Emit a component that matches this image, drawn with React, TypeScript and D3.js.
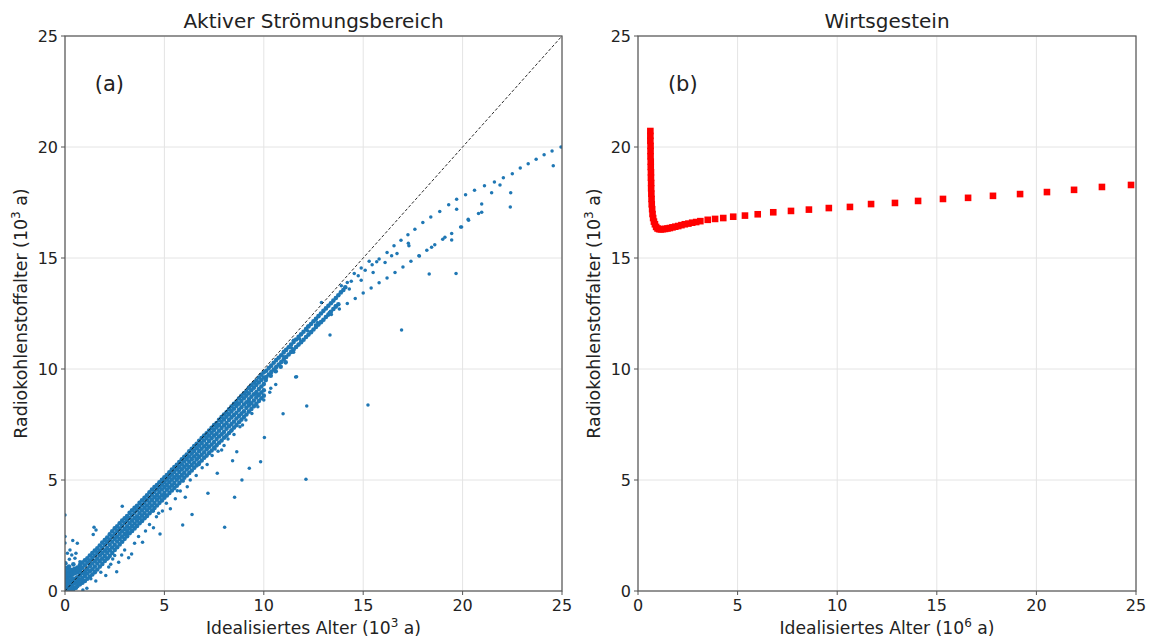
import React from "react";
import * as d3 from "d3";

// ---------- shared ----------
const TICKS = [0, 5, 10, 15, 20, 25];
const TITLE_A = "Aktiver Strömungsbereich";
const TITLE_B = "Wirtsgestein";
const Y_LABEL = "Radiokohlenstoffalter (10";
const X_LABEL = "Idealisiertes Alter (10";

// ---------- panel (a): dense band 0..10 ----------
const bandXa = [0,0.25,0.5,0.75,1,1.25,1.5,1.75,2,2.25,2.5,2.75,3,3.25,3.5,3.75,4,4.25,4.5,4.75,5,5.25,5.5,5.75,6,6.25,6.5,6.75,7,7.25,7.5,7.75,8,8.25,8.5,8.75,9,9.25,9.5,9.75,10];
const bandXb = [0.125,0.375,0.625,0.875,1.125,1.375,1.625,1.875,2.125,2.375,2.625,2.875,3.125,3.375,3.625,3.875,4.125,4.375,4.625,4.875,5.125,5.375,5.625,5.875,6.125,6.375,6.625,6.875,7.125,7.375,7.625,7.875,8.125,8.375,8.625,8.875,9.125,9.375,9.625,9.875];
// values at bandXa
const bandTopA = [0.75,0.9,1.0,1.17,1.38,1.6,1.82,2.05,2.3,2.55,2.82,3.05,3.28,3.52,3.75,3.97,4.2,4.45,4.68,4.9,5.12,5.35,5.58,5.81,6.05,6.29,6.53,6.77,7.0,7.23,7.47,7.71,7.95,8.19,8.43,8.67,8.9,9.15,9.38,9.62,9.85];
const bandUpA = [0.55,0.66,0.8,0.95,1.16,1.37,1.6,1.82,2.08,2.32,2.58,2.81,3.06,3.29,3.53,3.74,3.98,4.21,4.46,4.67,4.9,5.12,5.36,5.59,5.83,6.06,6.31,6.54,6.78,7.0,7.25,7.48,7.73,7.96,8.21,8.44,8.68,8.91,9.16,9.39,9.62];
const bandMidA = [0.3,0.45,0.55,0.72,0.9,1.12,1.35,1.6,1.82,2.08,2.35,2.58,2.8,3.05,3.28,3.5,3.75,3.98,4.22,4.45,4.68,4.9,5.12,5.36,5.6,5.82,6.06,6.3,6.52,6.76,7.0,7.22,7.46,7.7,7.93,8.16,8.4,8.63,8.86,9.1,9.32];
const bandDownA = [0.15,0.26,0.37,0.52,0.68,0.89,1.1,1.35,1.58,1.84,2.08,2.34,2.57,2.82,3.04,3.28,3.5,3.75,3.97,4.21,4.42,4.66,4.87,5.12,5.33,5.58,5.79,6.04,6.25,6.5,6.71,6.96,7.17,7.42,7.63,7.88,8.1,8.36,8.58,8.83,9.04];
const bandLowA = [0.02,0.1,0.15,0.3,0.45,0.65,0.85,1.1,1.35,1.58,1.85,2.1,2.35,2.6,2.82,3.05,3.28,3.5,3.74,3.97,4.2,4.42,4.64,4.86,5.1,5.32,5.55,5.78,6.0,6.22,6.45,6.68,6.9,7.12,7.36,7.6,7.84,8.08,8.32,8.56,8.8];
// values at bandXb
const bandTopB = [0.83,0.95,1.06,1.28,1.47,1.71,1.92,2.18,2.41,2.69,2.92,3.17,3.38,3.64,3.84,4.09,4.31,4.57,4.77,5.01,5.22,5.47,5.68,5.93,6.15,6.41,6.63,6.89,7.1,7.35,7.57,7.83,8.05,8.31,8.53,8.79,9.01,9.27,9.48,9.74];
const bandUpB = [0.6,0.73,0.86,1.05,1.27,1.49,1.71,1.95,2.2,2.46,2.7,2.94,3.18,3.41,3.64,3.86,4.1,4.34,4.57,4.79,5.01,5.24,5.48,5.71,5.95,6.19,6.43,6.66,6.89,7.13,7.37,7.61,7.85,8.09,8.33,8.56,8.8,9.04,9.28,9.51];
const bandMidB = [0.36,0.5,0.62,0.81,0.99,1.24,1.46,1.71,1.93,2.22,2.45,2.69,2.91,3.17,3.37,3.63,3.85,4.1,4.32,4.57,4.77,5.01,5.22,5.48,5.69,5.94,6.16,6.41,6.62,6.88,7.09,7.34,7.56,7.82,8.03,8.28,8.5,8.75,8.96,9.21];
const bandDownB = [0.2,0.31,0.44,0.58,0.79,0.98,1.24,1.46,1.72,1.96,2.23,2.45,2.71,2.93,3.17,3.39,3.64,3.85,4.11,4.31,4.56,4.76,5.01,5.22,5.47,5.68,5.93,6.14,6.39,6.6,6.85,7.06,7.31,7.52,7.77,7.99,8.25,8.46,8.72,8.94];
const bandLowB = [0.06,0.12,0.22,0.37,0.55,0.74,0.97,1.22,1.46,1.71,1.97,2.22,2.47,2.7,2.93,3.16,3.38,3.62,3.85,4.08,4.3,4.53,4.74,4.98,5.2,5.43,5.66,5.88,6.1,6.33,6.56,6.78,7.0,7.24,7.47,7.72,7.95,8.2,8.43,8.68];

const originPts = [[0.02,0.05],[0.05,0.25],[0.03,0.45],[0.04,0.65],[0.02,0.85],[0.03,1.05],[0.02,1.25],[0.12,0.15],[0.15,0.45],[0.18,0.75],[0.28,0.25],[0.32,0.55],[0.4,0.05],[0.45,0.35],[0.55,0.15],[0.6,0.6],[0.7,0.35],[0.85,0.5],[0.95,0.8],[0.1,1.0],[0.2,1.1],[0.25,0.95],[0.35,0.8],[0.42,1.2],[0.5,0.85],[0.62,0.95],[0.75,0.75],[0.8,1.05],[0.15,0.3],[0.3,0.1]];

const sparseBelow = [[1.8,0.85],[2.05,0.7],[2.3,1.2],[2.7,1.3],[3.0,1.85],[3.2,1.5],[3.5,2.15],[3.7,2.45],[4.05,2.7],[4.25,3.0],[4.45,2.85],[4.6,3.35],[4.9,3.6],[5.1,3.95],[5.3,3.7],[5.55,4.15],[5.8,4.5],[6.15,4.7],[6.3,5.0],[6.6,5.2],[6.9,5.55],[7.15,5.7],[7.4,6.1],[7.7,6.3],[8.0,6.55],[8.2,6.85],[8.5,7.05],[8.8,7.4],[9.1,7.7],[9.4,8.0],[9.7,8.3],[10.0,8.6],[10.3,8.95],[10.6,9.3],[3.1,2.6],[3.9,3.15],[4.45,3.6],[5.0,4.25],[5.95,4.95],[6.75,5.7],[7.55,6.4],[8.35,7.2],[9.25,8.1],[1.3,0.55],[1.55,0.45],[2.5,1.6],[1.1,0.12],[0.9,0.05]];

// band 10..14 (upper, near the diagonal)
const upperBand = [[10.125,9.92],[10.375,10.15],[10.625,10.4],[10.875,10.62],[11.125,10.86],[11.375,11.1],[11.625,11.33],[11.875,11.56],[12.125,11.8],[12.375,12.03],[12.625,12.26],[12.875,12.5],[13.125,12.73],[13.375,12.96],[13.625,13.2],[13.875,13.45],[14.1,13.68],
  [10.25,10.04],[10.5,10.28],[10.75,10.51],[11.0,10.74],[11.25,10.98],[11.5,11.22],[11.75,11.45],[12.0,11.68],[12.25,11.92],[12.5,12.15],[12.75,12.38],[13.0,12.62],[13.25,12.85],[13.5,13.08],[13.75,13.32],[14.0,13.56],
  [10.25,9.75],[10.5,9.98],[10.75,10.2],[11.0,10.43],[11.25,10.65],[11.5,10.88],[11.75,11.1],[12.0,11.32],[12.25,11.55],[12.5,11.78],[12.75,12.0],[13.0,12.22],[13.25,12.45],[13.5,12.7],[13.75,12.92],
  [10.125,9.64],[10.375,9.86],[10.625,10.09],[10.875,10.31],[11.125,10.54],[11.375,10.77],[11.625,10.99],[11.875,11.21],[12.125,11.44],[12.375,11.66],[12.625,11.89],[12.875,12.11],[13.125,12.34],[13.375,12.58],[13.625,12.81],
  [10.1,9.5],[10.35,9.7],[10.6,9.9],[10.85,10.1],[11.1,10.3]];

const lowerBranch = [[10.6,10.05],[11.0,10.55],[11.4,10.95],[11.8,11.35],[12.2,11.72],[12.6,11.98],[13.0,12.22],[13.4,12.46],[13.8,12.7],[14.2,12.95],[14.6,13.18],[15.0,13.42],[15.4,13.65],[15.8,13.88],[16.2,14.1],[16.6,14.35],[17.0,14.6],[17.4,14.85],[17.8,15.1],[18.2,15.35],[18.6,15.6],[19.0,15.85],[19.45,16.1],[19.9,16.4],[20.3,16.7],[20.8,17.0]];

const upperBranch = [[14.4,13.95],[14.75,14.2],[15.1,14.45],[15.45,14.7],[15.8,14.95],[16.2,15.25],[16.55,15.55],[16.9,15.8],[17.25,16.05],[17.6,16.3],[18.0,16.6],[18.4,16.85],[18.85,17.1],[19.3,17.4],[19.7,17.65],[20.15,17.85],[20.6,18.05],[21.1,18.25],[21.6,18.42],[22.05,18.62],[22.5,18.8],[22.9,19.05],[23.3,19.25],[23.7,19.45],[24.1,19.65],[24.5,19.82],[24.95,20.0],
  [13.9,13.75],[14.2,13.9],[14.55,14.3],[14.9,14.55],[15.3,14.85],[14.3,13.6],[14.9,14.0],[15.5,14.35],[16.1,14.8],[16.7,15.2],[17.3,15.55],[12.9,13.0],[13.3,12.55],[12.7,12.1],[11.5,10.75],[13.6,12.85],[12.2,11.9],[11.0,10.8]];

const outliers = [[0,3.42],[0,2.45],[0,2.16],[0.39,2.27],[0.62,2.15],[0.12,1.7],[0.25,1.85],[0.34,1.62],[0.55,1.7],[0.22,1.43],[0.5,1.47],[0.75,1.32],[1.46,2.87],[1.56,2.75],[1.42,2.55],[2.88,3.82],[2.18,1.47],[2.6,0.87],[2.2,1.08],[2.4,1.44],[2.85,1.62],[3.35,1.67],[3.9,2.2],[4.78,2.57],[4.71,3.5],[5.65,4.52],[6.05,4.22],[5.92,2.97],[6.39,3.45],[7.19,4.4],[7.66,5.3],[7.88,6.35],[8.64,6.27],[8.43,5.87],[8.03,2.87],[8.53,4.22],[8.9,5.0],[9.27,5.53],[9.84,5.82],[10.03,6.92],[8.93,7.48],[10.97,7.98],[12.16,8.33],[12.12,5.03],[15.24,8.38],[11.6,9.64],[10.35,9.13],[9.67,8.9],[9.27,8.53],[16.93,11.76],[13.33,11.53],[11.49,11.3],[11.65,9.65],[15.68,14.83],[16.43,15.1],[17.27,15.66],[17.83,15.09],[18.32,14.28],[18.44,15.48],[19.11,15.93],[19.45,15.81],[19.7,17.2],[19.95,16.4],[20.28,16.74],[20.96,17.06],[20.96,17.43],[21.46,17.94],[21.88,18.29],[22.42,17.94],[22.4,17.3],[24.56,19.16],[19.67,14.3]];

// ---------- panel (b) ----------
const rockPts = [[0.62,20.72],[0.62,20.5],[0.62,20.28],[0.63,20.05],[0.63,19.82],[0.63,19.58],[0.64,19.34],[0.64,19.1],[0.65,18.86],[0.65,18.62],[0.66,18.38],[0.66,18.14],[0.67,17.9],[0.68,17.66],[0.69,17.42],[0.71,17.2],[0.73,16.98],[0.76,16.8],[0.8,16.64],[0.85,16.52],[0.91,16.4],[0.98,16.33],[1.06,16.3],[1.15,16.29],[1.25,16.3],[1.36,16.31],[1.48,16.33],[1.6,16.35],[1.73,16.38],[1.87,16.41],[2.02,16.44],[2.18,16.48],[2.35,16.52],[2.53,16.55],[2.72,16.59],[2.92,16.62],[3.13,16.66],[3.5,16.72],[3.87,16.76],[4.28,16.8],[4.78,16.86],[5.37,16.91],[6.01,16.97],[6.79,17.06],[7.68,17.12],[8.58,17.18],[9.58,17.25],[10.64,17.3],[11.7,17.43],[12.9,17.48],[14.06,17.57],[15.31,17.66],[16.57,17.71],[17.82,17.8],[19.18,17.88],[20.53,17.97],[21.89,18.07],[23.29,18.2],[24.75,18.29]];

const FONT = "'DejaVu Sans', sans-serif";
const TOP = 36, BOTTOM = 591;
const yScale = d3.scaleLinear().domain([0, 25]).range([BOTTOM, TOP]);
const xScaleA = d3.scaleLinear().domain([0, 25]).range([65, 562]);
const xScaleB = d3.scaleLinear().domain([0, 25]).range([638, 1136]);

function Frame({ xs, id, title, letter, sup }) {
  const [x0, x1] = xs.range();
  const cx = (x0 + x1) / 2;
  return (
    <g>
      {TICKS.map((t) => (
        <g key={"g" + t}>
          <line x1={xs(t)} x2={xs(t)} y1={TOP} y2={BOTTOM} stroke="#e4e4e4" strokeWidth={1} />
          <line x1={x0} x2={x1} y1={yScale(t)} y2={yScale(t)} stroke="#e4e4e4" strokeWidth={1} />
        </g>
      ))}
      <text x={cx} y={28} textAnchor="middle" fontFamily={FONT} fontSize={20} fill="#222">{title}</text>
      <text x={xs(1.5)} y={yScale(22.8)} fontFamily={FONT} fontSize={21} fill="#222" dominantBaseline="middle">{letter}</text>
      <text x={cx} y={634} textAnchor="middle" fontFamily={FONT} fontSize={17.2} fill="#222">
        {X_LABEL}<tspan dy={-7} fontSize={12}>{sup}</tspan><tspan dy={7}> a)</tspan>
      </text>
      <text transform={`translate(${x0 - 38},${(TOP + BOTTOM) / 2}) rotate(-90)`} textAnchor="middle" fontFamily={FONT} fontSize={17.4} fill="#222">
        {Y_LABEL}<tspan dy={-7} fontSize={12}>3</tspan><tspan dy={7}> a)</tspan>
      </text>
      <clipPath id={id}>
        <rect x={x0} y={TOP} width={x1 - x0} height={BOTTOM - TOP} />
      </clipPath>
    </g>
  );
}

function Axes({ xs }) {
  const [x0, x1] = xs.range();
  return (
    <g>
      <rect x={x0} y={TOP} width={x1 - x0} height={BOTTOM - TOP} fill="none" stroke="#555" strokeWidth={1.2} />
      {TICKS.map((t) => (
        <g key={"t" + t}>
          <line x1={xs(t)} x2={xs(t)} y1={BOTTOM} y2={BOTTOM + 4} stroke="#555" />
          <text x={xs(t)} y={BOTTOM + 20} textAnchor="middle" fontFamily={FONT} fontSize={16} fill="#222">{t}</text>
          <line x1={x0 - 4} x2={x0} y1={yScale(t)} y2={yScale(t)} stroke="#555" />
          <text x={x0 - 7} y={yScale(t) + 5.5} textAnchor="end" fontFamily={FONT} fontSize={16} fill="#222">{t}</text>
        </g>
      ))}
    </g>
  );
}

export default function App() {
  const pair = (xsArr, ysArr) => xsArr.map((x, i) => [x, ysArr[i]]);
  const dense = [
    ...pair(bandXa, bandTopA), ...pair(bandXa, bandUpA), ...pair(bandXa, bandMidA),
    ...pair(bandXa, bandDownA), ...pair(bandXa, bandLowA),
    ...pair(bandXb, bandTopB), ...pair(bandXb, bandUpB), ...pair(bandXb, bandMidB),
    ...pair(bandXb, bandDownB), ...pair(bandXb, bandLowB),
    ...originPts, ...upperBand,
  ];
  const sparse = [...sparseBelow, ...lowerBranch, ...upperBranch, ...outliers];
  const diag = d3.line().x((d) => xScaleA(d[0])).y((d) => yScale(d[1]))([[0, 0], [25, 25]]);
  return (
    <svg width={1153} height={640} style={{ position: "absolute", left: 0, top: 0, background: "#fff" }}>
      <rect width={1153} height={640} fill="#fff" />
      <Frame xs={xScaleA} id="clipA" title={TITLE_A} letter="(a)" sup="3" />
      <Frame xs={xScaleB} id="clipB" title={TITLE_B} letter="(b)" sup="6" />
      <g clipPath="url(#clipA)">
        {dense.map((d, i) => (
          <circle key={"d" + i} cx={xScaleA(d[0])} cy={yScale(d[1])} r={2.3} fill="#1f77b4" />
        ))}
        {sparse.map((d, i) => (
          <circle key={"s" + i} cx={xScaleA(d[0])} cy={yScale(d[1])} r={1.75} fill="#1f77b4" />
        ))}
        <path d={diag} stroke="#111" strokeWidth={0.9} strokeDasharray="3,2" fill="none" />
      </g>
      <g clipPath="url(#clipB)">
        {rockPts.map((d, i) => (
          <rect key={i} x={xScaleB(d[0]) - 3.3} y={yScale(d[1]) - 3.3} width={6.6} height={6.6} fill="#f00" />
        ))}
      </g>
      <Axes xs={xScaleA} />
      <Axes xs={xScaleB} />
    </svg>
  );
}
